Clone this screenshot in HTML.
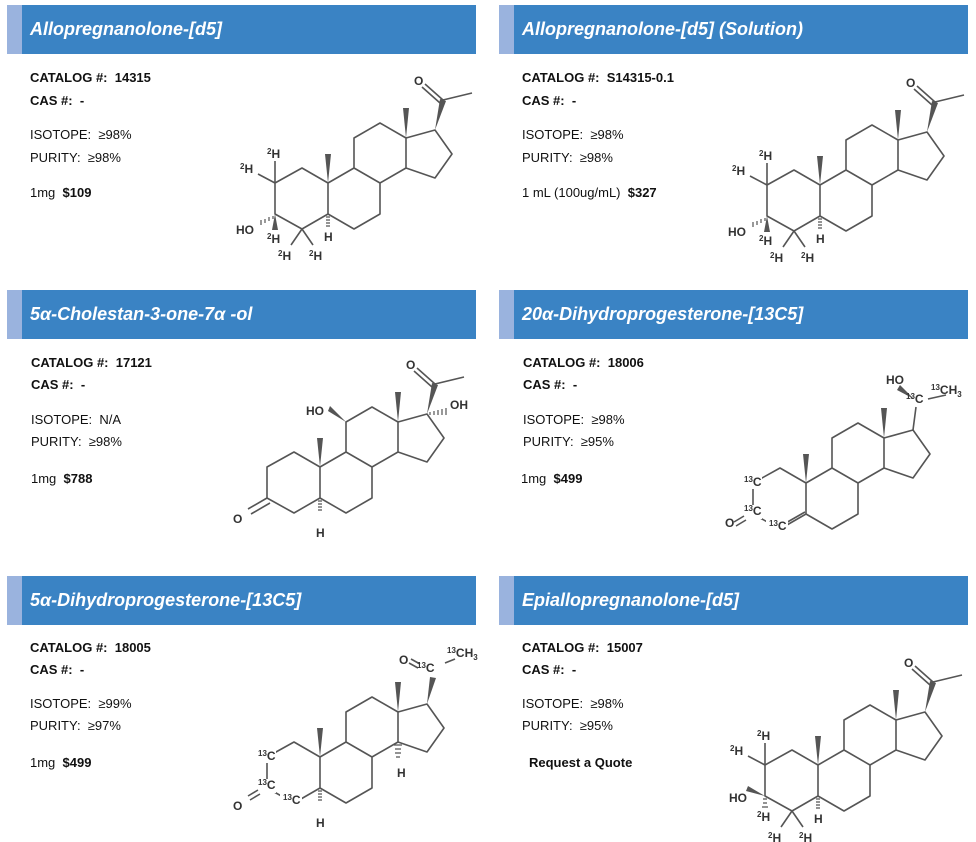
<!DOCTYPE html>
<html><head><meta charset="utf-8"><style>
body{margin:0;width:976px;height:842px;background:#fff;position:relative;overflow:hidden;font-family:"Liberation Sans",Arial,sans-serif;color:#111}
.hd{position:absolute;height:49px;background:#3a83c4;width:454px}
.hd:before{content:"";position:absolute;left:-15px;top:0;width:15px;height:49px;background:#9ab3de}
.hd span{position:absolute;left:8px;top:14px;color:#fff;font-style:italic;font-weight:bold;font-size:18px}
.t{position:absolute;font-size:13px;line-height:15px;white-space:nowrap}
.b{font-weight:bold}
svg{position:absolute;left:0;top:0}
svg text{font-family:"Liberation Sans",Arial,sans-serif;font-size:12px;fill:#333;font-weight:bold}
svg tspan.s{font-size:8px}
</style></head><body>
<div class="hd" style="left:22px;top:5px"><span>Allopregnanolone-[d5]</span></div>
<div class="hd" style="left:514px;top:5px"><span>Allopregnanolone-[d5] (Solution)</span></div>
<div class="hd" style="left:22px;top:290px"><span>5α-Cholestan-3-one-7α -ol</span></div>
<div class="hd" style="left:514px;top:290px"><span>20α-Dihydroprogesterone-[13C5]</span></div>
<div class="hd" style="left:22px;top:576px"><span>5α-Dihydroprogesterone-[13C5]</span></div>
<div class="hd" style="left:514px;top:576px"><span>Epiallopregnanolone-[d5]</span></div>

<div class="t b" style="left:30px;top:70px">CATALOG #:&nbsp; 14315</div>
<div class="t b" style="left:30px;top:93px">CAS #:&nbsp; -</div>
<div class="t" style="left:30px;top:127px">ISOTOPE:&nbsp; ≥98%</div>
<div class="t" style="left:30px;top:150px">PURITY:&nbsp; ≥98%</div>
<div class="t" style="left:30px;top:185px">1mg&nbsp; <b>$109</b></div>

<div class="t b" style="left:522px;top:70px">CATALOG #:&nbsp; S14315-0.1</div>
<div class="t b" style="left:522px;top:93px">CAS #:&nbsp; -</div>
<div class="t" style="left:522px;top:127px">ISOTOPE:&nbsp; ≥98%</div>
<div class="t" style="left:522px;top:150px">PURITY:&nbsp; ≥98%</div>
<div class="t" style="left:522px;top:185px">1 mL (100ug/mL)&nbsp; <b>$327</b></div>

<div class="t b" style="left:31px;top:355px">CATALOG #:&nbsp; 17121</div>
<div class="t b" style="left:31px;top:377px">CAS #:&nbsp; -</div>
<div class="t" style="left:31px;top:412px">ISOTOPE:&nbsp; N/A</div>
<div class="t" style="left:31px;top:434px">PURITY:&nbsp; ≥98%</div>
<div class="t" style="left:31px;top:471px">1mg&nbsp; <b>$788</b></div>

<div class="t b" style="left:523px;top:355px">CATALOG #:&nbsp; 18006</div>
<div class="t b" style="left:523px;top:377px">CAS #:&nbsp; -</div>
<div class="t" style="left:523px;top:412px">ISOTOPE:&nbsp; ≥98%</div>
<div class="t" style="left:523px;top:434px">PURITY:&nbsp; ≥95%</div>
<div class="t" style="left:521px;top:471px">1mg&nbsp; <b>$499</b></div>

<div class="t b" style="left:30px;top:640px">CATALOG #:&nbsp; 18005</div>
<div class="t b" style="left:30px;top:662px">CAS #:&nbsp; -</div>
<div class="t" style="left:30px;top:696px">ISOTOPE:&nbsp; ≥99%</div>
<div class="t" style="left:30px;top:718px">PURITY:&nbsp; ≥97%</div>
<div class="t" style="left:30px;top:755px">1mg&nbsp; <b>$499</b></div>

<div class="t b" style="left:522px;top:640px">CATALOG #:&nbsp; 15007</div>
<div class="t b" style="left:522px;top:662px">CAS #:&nbsp; -</div>
<div class="t" style="left:522px;top:696px">ISOTOPE:&nbsp; ≥98%</div>
<div class="t" style="left:522px;top:718px">PURITY:&nbsp; ≥95%</div>
<div class="t b" style="left:529px;top:755px">Request a Quote</div>

<svg width="976" height="842" viewBox="0 0 976 842">
<defs>
<g id="sk" fill="none" stroke="#555" stroke-width="1.6" stroke-linejoin="round">
<path d="M-53,0 L-26,-15 L0,0 L0,31 L-26,46 L-53,31 Z M0,0 L26,-15 L52,0 L52,31 L26,46 L0,31 M26,-15 L26,-45 L52,-60 L78,-45 L78,-15 L52,0 M78,-45 L107,-53 L124,-29 L107,-5 L78,-15"/>
<polygon points="0,0 -3,-29 3,-29" fill="#555" stroke="none"/>
<polygon points="78,-45 75,-75 81,-75" fill="#555" stroke="none"/>
</g>
<g id="ket" fill="none" stroke="#555" stroke-width="1.6">
<polygon points="107,-53 112,-84 118,-82" fill="#555" stroke="none"/>
<path d="M115,-83 L144,-90 M115,-83 L97,-99 M112,-80 L94,-96"/>
</g>
<g id="hH" stroke="#555" stroke-width="1.2">
<path d="M-2,34h4M-2,37h4M-2,40h4M-2,43h4"/>
</g>
</defs>

<!-- S1 -->
<g transform="translate(328,183)">
<use href="#sk"/><use href="#ket"/><use href="#hH"/>
<text x="86" y="-98">O</text>
<path d="M-53,0 L-53,-22 M-53,0 L-70,-9 M-26,46 L-37,62 M-26,46 L-15,62" stroke="#555" stroke-width="1.6"/>
<polygon points="-53,31 -56,47 -50,47" fill="#555"/>
<path d="M-55,33v3M-59,34v4M-63,36v4M-67,37v5" stroke="#555" stroke-width="1.2"/>
<text x="-92" y="51">HO</text>
<text x="-61" y="-25"><tspan class="s" dy="-4">2</tspan><tspan dy="4">H</tspan></text>
<text x="-88" y="-10"><tspan class="s" dy="-4">2</tspan><tspan dy="4">H</tspan></text>
<text x="-61" y="60"><tspan class="s" dy="-4">2</tspan><tspan dy="4">H</tspan></text>
<text x="-50" y="77"><tspan class="s" dy="-4">2</tspan><tspan dy="4">H</tspan></text>
<text x="-19" y="77"><tspan class="s" dy="-4">2</tspan><tspan dy="4">H</tspan></text>
<text x="-4" y="58">H</text>
</g>
<!-- S2 -->
<g transform="translate(820,185)">
<use href="#sk"/><use href="#ket"/><use href="#hH"/>
<text x="86" y="-98">O</text>
<path d="M-53,0 L-53,-22 M-53,0 L-70,-9 M-26,46 L-37,62 M-26,46 L-15,62" stroke="#555" stroke-width="1.6"/>
<polygon points="-53,31 -56,47 -50,47" fill="#555"/>
<path d="M-55,33v3M-59,34v4M-63,36v4M-67,37v5" stroke="#555" stroke-width="1.2"/>
<text x="-92" y="51">HO</text>
<text x="-61" y="-25"><tspan class="s" dy="-4">2</tspan><tspan dy="4">H</tspan></text>
<text x="-88" y="-10"><tspan class="s" dy="-4">2</tspan><tspan dy="4">H</tspan></text>
<text x="-61" y="60"><tspan class="s" dy="-4">2</tspan><tspan dy="4">H</tspan></text>
<text x="-50" y="77"><tspan class="s" dy="-4">2</tspan><tspan dy="4">H</tspan></text>
<text x="-19" y="77"><tspan class="s" dy="-4">2</tspan><tspan dy="4">H</tspan></text>
<text x="-4" y="58">H</text>
</g>
<!-- S3 -->
<g transform="translate(320,467)">
<use href="#sk"/><use href="#ket"/><use href="#hH"/>
<text x="86" y="-98">O</text>
<polygon points="26,-45 8,-56 10,-61" fill="#555"/>
<text x="-14" y="-52">HO</text>
<path d="M110,-55v3M114,-56v4M118,-57v5M122,-58v6M126,-59v7" stroke="#555" stroke-width="1.2"/>
<text x="130" y="-58">OH</text>
<path d="M-53,31 L-72,42 M-50,36 L-69,47" stroke="#555" stroke-width="1.6"/>
<text x="-87" y="56">O</text>
<text x="-4" y="70">H</text>
</g>
<!-- S4 -->
<g transform="translate(806,483)">
<use href="#sk"/>
<path d="M-22,41 L-1,29" stroke="#555" stroke-width="1.6"/>
<rect x="-66" y="-8" width="22" height="14" fill="#fff"/>
<rect x="-66" y="22" width="22" height="14" fill="#fff"/>
<rect x="-40" y="37" width="22" height="14" fill="#fff"/>
<text x="-62" y="3"><tspan class="s" dy="-4">13</tspan><tspan dy="4">C</tspan></text>
<text x="-62" y="32"><tspan class="s" dy="-4">13</tspan><tspan dy="4">C</tspan></text>
<text x="-37" y="47"><tspan class="s" dy="-4">13</tspan><tspan dy="4">C</tspan></text>
<path d="M-62,33 L-72,39 M-60,37 L-70,43" stroke="#555" stroke-width="1.6"/>
<text x="-81" y="44">O</text>
<path d="M107,-53 L110,-76 M122,-84 L140,-88" stroke="#555" stroke-width="1.6"/>
<polygon points="108,-84 94,-98 91,-93" fill="#555"/>
<text x="80" y="-99">HO</text>
<text x="100" y="-80"><tspan class="s" dy="-4">13</tspan><tspan dy="4">C</tspan></text>
<text x="125" y="-89"><tspan class="s" dy="-4">13</tspan><tspan dy="4">CH</tspan><tspan class="s" dy="3">3</tspan></text>
</g>
<!-- S5 -->
<g transform="translate(320,757)">
<use href="#sk"/><use href="#hH"/>
<path d="M74,-12h8M75,-8h6M75,-4h6M76,0h4" stroke="#555" stroke-width="1.2"/>
<text x="77" y="20">H</text>
<rect x="-66" y="-8" width="22" height="14" fill="#fff"/>
<rect x="-66" y="22" width="22" height="14" fill="#fff"/>
<rect x="-40" y="37" width="22" height="14" fill="#fff"/>
<text x="-62" y="3"><tspan class="s" dy="-4">13</tspan><tspan dy="4">C</tspan></text>
<text x="-62" y="32"><tspan class="s" dy="-4">13</tspan><tspan dy="4">C</tspan></text>
<text x="-37" y="47"><tspan class="s" dy="-4">13</tspan><tspan dy="4">C</tspan></text>
<path d="M-62,33 L-72,39 M-60,37 L-70,43" stroke="#555" stroke-width="1.6"/>
<text x="-87" y="53">O</text>
<polygon points="107,-53 110,-80 116,-79" fill="#555"/>
<path d="M100,-93 L91,-98 M98,-89 L89,-94 M125,-94 L135,-98" stroke="#555" stroke-width="1.6"/>
<text x="79" y="-93">O</text>
<text x="97" y="-85"><tspan class="s" dy="-4">13</tspan><tspan dy="4">C</tspan></text>
<text x="127" y="-100"><tspan class="s" dy="-4">13</tspan><tspan dy="4">CH</tspan><tspan class="s" dy="3">3</tspan></text>
<text x="-4" y="70">H</text>
</g>
<!-- S6 -->
<g transform="translate(818,765)">
<use href="#sk"/><use href="#ket"/><use href="#hH"/>
<text x="86" y="-98">O</text>
<path d="M-53,0 L-53,-22 M-53,0 L-70,-9 M-26,46 L-37,62 M-26,46 L-15,62" stroke="#555" stroke-width="1.6"/>
<polygon points="-53,31 -72,26 -70,21" fill="#555"/>
<path d="M-55,34h4M-55,38h4M-56,42h6" stroke="#555" stroke-width="1.2"/>
<text x="-89" y="37">HO</text>
<text x="-61" y="-25"><tspan class="s" dy="-4">2</tspan><tspan dy="4">H</tspan></text>
<text x="-88" y="-10"><tspan class="s" dy="-4">2</tspan><tspan dy="4">H</tspan></text>
<text x="-61" y="56"><tspan class="s" dy="-4">2</tspan><tspan dy="4">H</tspan></text>
<text x="-50" y="77"><tspan class="s" dy="-4">2</tspan><tspan dy="4">H</tspan></text>
<text x="-19" y="77"><tspan class="s" dy="-4">2</tspan><tspan dy="4">H</tspan></text>
<text x="-4" y="58">H</text>
</g>
</svg>
</body></html>
